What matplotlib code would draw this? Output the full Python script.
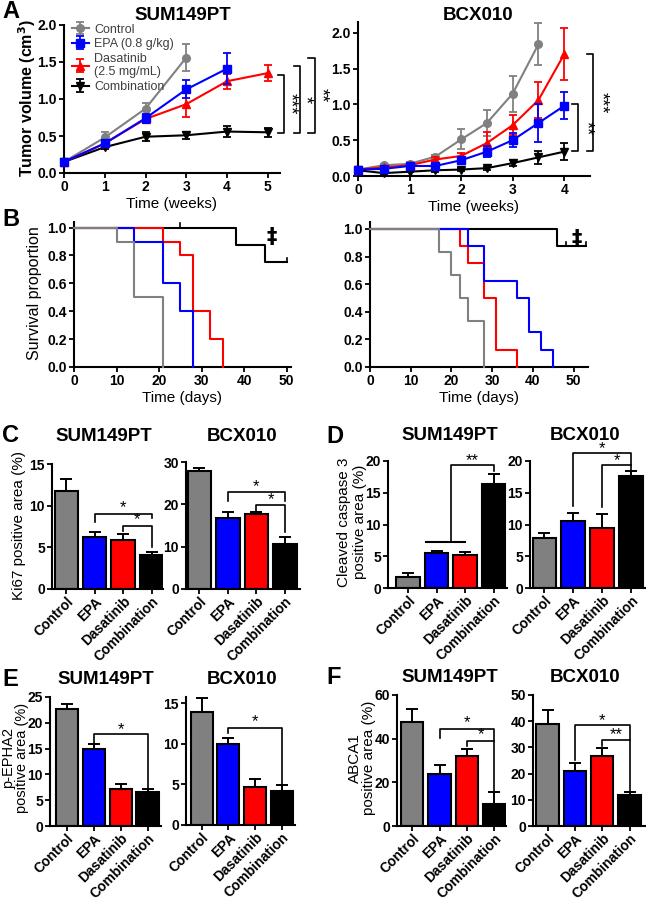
import matplotlib; matplotlib.use("Agg")
import matplotlib.pyplot as plt

plt.rcParams['font.family'] = ['Liberation Sans', 'DejaVu Sans']
plt.rcParams['axes.linewidth'] = 1.5

W, H = 646, 900
GROUPS = ["Control", "EPA", "Dasatinib", "Combination"]
COLORS = ["#808080", "#0000ff", "#ff0000", "#000000"]
MARKERS = ["o", "s", "^", "v"]
LEG_LABELS = ["Control", "EPA (0.8 g/kg)", "Dasatinib\n(2.5 mg/mL)", "Combination"]

# ---- A: tumour volume (cm3), SUM149PT
A_SUM_T = [[0, 1, 2, 3], [0, 1, 2, 3, 4], [0, 1, 2, 3, 4, 5], [0, 1, 2, 3, 4, 5]]
A_SUM_Y = [[0.15, 0.48, 0.87, 1.56],
           [0.15, 0.40, 0.74, 1.13, 1.41],
           [0.15, 0.40, 0.73, 0.93, 1.24, 1.35],
           [0.15, 0.35, 0.49, 0.51, 0.56, 0.55]]
A_SUM_E = [[0.02, 0.07, 0.08, 0.18],
           [0.02, 0.05, 0.06, 0.12, 0.21],
           [0.02, 0.04, 0.06, 0.18, 0.10, 0.11],
           [0.02, 0.03, 0.06, 0.05, 0.07, 0.06]]
# ---- A: BCX010
A_BCX_T = [0, 0.5, 1, 1.5, 2, 2.5, 3, 3.5, 4]
A_BCX_Y = [[0.09, 0.15, 0.17, 0.27, 0.51, 0.74, 1.15, 1.84],
           [0.09, 0.10, 0.14, 0.14, 0.22, 0.34, 0.50, 0.74, 0.98],
           [0.09, 0.12, 0.15, 0.23, 0.28, 0.46, 0.71, 1.06, 1.70],
           [0.08, 0.04, 0.06, 0.08, 0.09, 0.11, 0.18, 0.26, 0.34]]
A_BCX_E = [[0.01, 0.02, 0.02, 0.03, 0.14, 0.18, 0.25, 0.29],
           [0.01, 0.02, 0.02, 0.03, 0.05, 0.08, 0.10, 0.26, 0.19],
           [0.01, 0.02, 0.02, 0.03, 0.04, 0.16, 0.14, 0.25, 0.36],
           [0.01, 0.01, 0.01, 0.02, 0.02, 0.02, 0.04, 0.09, 0.12]]
# significance brackets: (x_left, x_right, y_top, y_bottom, label, x_label)
A_SUM_SIG = [(5.25, 5.39, 1.32, 0.54, "***", 5.53),
             (5.64, 5.80, 1.44, 0.54, "*", 5.91),
             (5.98, 6.16, 1.56, 0.54, "**", 6.30)]
A_BCX_SIG = [(4.16, 4.27, 1.00, 0.35, "**", 4.41),
             (4.44, 4.56, 1.71, 0.35, "***", 4.70)]

# ---- B: survival
B_SUM_T = [[0, 10, 14, 21], [0, 14, 21, 25, 28], [0, 21, 25, 28, 32, 35], [0, 38, 45, 50]]
B_SUM_S = [[1.0, 0.9, 0.5, 0.0], [1.0, 0.9, 0.6, 0.4, 0.0],
           [1.0, 0.9, 0.8, 0.4, 0.2, 0.0], [1.0, 0.875, 0.75, 0.75]]
B_SUM_CENS = [(25, 1.0), (50, 0.75)]
B_BCX_T = [[0, 17, 20, 22, 24, 28], [0, 24, 28, 36, 39, 42, 45],
           [0, 22, 24, 28, 31, 36], [0, 46, 53]]
B_BCX_S = [[1.0, 0.833, 0.667, 0.5, 0.333, 0.0], [1.0, 0.875, 0.625, 0.5, 0.25, 0.125, 0.0],
           [1.0, 0.875, 0.75, 0.5, 0.125, 0.0], [1.0, 0.875, 0.875]]
B_BCX_CENS = [(48.2, 0.875), (53, 0.875)]

# ---- C-F: bar charts (mean, upper SEM)
C_SUM = [11.8, 6.2, 5.9, 4.1];   C_SUM_E = [1.4, 0.7, 0.7, 0.35]
C_BCX = [27.8, 16.8, 17.8, 10.6]; C_BCX_E = [0.8, 1.5, 0.4, 1.6]
D_SUM = [1.8, 5.5, 5.15, 16.3];  D_SUM_E = [0.6, 0.4, 0.45, 1.6]
D_BCX = [7.95, 10.6, 9.45, 17.6]; D_BCX_E = [0.75, 1.2, 2.15, 0.8]
E_SUM = [22.7, 14.9, 7.15, 6.6]; E_SUM_E = [0.9, 0.9, 1.05, 0.5]
E_BCX = [14.0, 10.0, 4.7, 4.2];  E_BCX_E = [1.7, 0.7, 1.0, 0.7]
F_SUM = [47.8, 23.8, 32.2, 9.9]; F_SUM_E = [5.6, 4.1, 2.9, 5.5]
F_BCX = [38.8, 21.1, 26.8, 11.8]; F_BCX_E = [5.5, 3.1, 3.1, 1.0]
# brackets: (x1, x2, y_top, leg1_bottom, leg2_bottom, label, label_y)
C_SUM_SIG = [(1, 3, 9.0, 8.1, 8.5, "*", 9.8), (2, 3, 7.6, 7.0, 5.1, "*", 8.3)]
C_BCX_SIG = [(1, 3, 22.9, 20.9, 20.9, "*", 24.1), (2, 3, 19.9, 18.4, 13.4, "*", 21.1)]
D_SUM_SIG = [(1.5, 3, 19.3, 7.2, 18.4, "**", 20.1)]
D_SUM_LINE = (0.63, 2.0, 7.2)
D_BCX_SIG = [(1, 3, 21.2, 12.9, 19.4, "*", 21.9), (2, 3, 19.4, 12.7, 18.4, "*", 20.1)]
E_SUM_SIG = [(1, 3, 17.8, 15.9, 7.1, "*", 18.7)]
E_BCX_SIG = [(1, 3, 12.0, 11.3, 4.9, "*", 12.7)]
F_SUM_SIG = [(1, 3, 44.3, 40.2, 39.1, "*", 47.3), (2, 3, 39.1, 36.8, 15.7, "*", 41.7)]
F_BCX_SIG = [(1, 3, 38.5, 25.2, 32.8, "*", 40.1), (2, 3, 32.8, 30.7, 13.1, "**", 34.7)]

TICKFS = 10

fig = plt.figure(figsize=(W / 100, H / 100), dpi=100)


def box(l, t, r, b):
    return [l / W, 1 - b / H, (r - l) / W, (b - t) / H]


def ftext(x, y, s, **kw):
    fig.text(x / W, 1 - y / H, s, **kw)


def style(ax):
    for sp in ["top", "right"]:
        ax.spines[sp].set_visible(False)
    ax.tick_params(direction="out", length=3.5, width=1.3, labelsize=TICKFS, pad=1.5)
    for lab in ax.get_xticklabels() + ax.get_yticklabels():
        lab.set_fontweight("bold")


def line_panel(rect, ts, ys, es, sig, xlim, ylim, xticks):
    ax = fig.add_axes(rect)
    zo = [4, 6, 5, 3]
    for i in [3, 2, 1, 0]:
        t = ts[i] if isinstance(ts[0], list) else ts[:len(ys[i])]
        ax.errorbar(t, ys[i], yerr=es[i], color=COLORS[i], marker=MARKERS[i], ms=5.5,
                    lw=1.5, elinewidth=1.3, capsize=3, capthick=1.3, clip_on=False,
                    label=LEG_LABELS[i], zorder=zo[i])
    for x0, x1, yt, yb, lab, xl in sig:
        ax.plot([x0, x1, x1, x0], [yt, yt, yb, yb], color="k", lw=1.2, clip_on=False)
        ax.text(xl, (yt + yb) / 2, lab, rotation=270, ha="center", va="center",
                fontsize=13, clip_on=False)
    ax.set_xlim(*xlim); ax.set_ylim(*ylim)
    ax.set_xticks(xticks)
    ax.set_yticks([0, 0.5, 1.0, 1.5, 2.0])
    ax.set_yticklabels(["0.0", "0.5", "1.0", "1.5", "2.0"])
    ax.set_xlabel("Time (weeks)", fontsize=11, labelpad=2)
    style(ax)
    return ax


def surv_panel(rect, ts, ss, cens, xlim, ylim, dagger_x):
    ax = fig.add_axes(rect)
    for i in [3, 2, 1, 0]:
        ax.step(ts[i], ss[i], where="post", color=COLORS[i], lw=1.5, clip_on=False, zorder=6 - i)
    for cx, cy in cens:
        ax.plot([cx, cx], [cy, cy + 0.03], color="k", lw=1.2, clip_on=False)
    ax.text(dagger_x, 0.93, "\u2021", ha="center", va="center", fontsize=15, fontweight="bold",
            family=["DejaVu Sans"])
    ax.set_xlim(*xlim); ax.set_ylim(*ylim)
    ax.set_xticks([0, 10, 20, 30, 40, 50])
    ax.set_yticks([0, 0.2, 0.4, 0.6, 0.8, 1.0])
    ax.set_yticklabels(["0.0", "0.2", "0.4", "0.6", "0.8", "1.0"])
    ax.set_xlabel("Time (days)", fontsize=11, labelpad=2)
    style(ax)
    return ax


def bar_panel(rect, vals, errs, sig, xlim, ylim, yticks, extra=None):
    ax = fig.add_axes(rect)
    x = range(len(GROUPS))
    ax.bar(x, vals, width=0.82, color=COLORS, edgecolor="k", lw=1.5, zorder=2)
    ax.errorbar(x, vals, yerr=[[0] * 4, errs], fmt="none", ecolor="k", elinewidth=1.4,
                capsize=4, capthick=1.4, zorder=1)
    for x1, x2, yt, l1, l2, lab, ly in sig:
        ax.plot([x1, x1, x2, x2], [l1, yt, yt, l2], color="k", lw=1.2, clip_on=False)
        ax.text((x1 + x2) / 2, ly, lab, ha="center", va="center", fontsize=12, clip_on=False)
    if extra:
        ax.plot([extra[0], extra[1]], [extra[2], extra[2]], color="k", lw=1.5, clip_on=False)
    ax.set_xlim(*xlim); ax.set_ylim(*ylim)
    ax.set_yticks(yticks)
    ax.set_xticks(list(x))
    ax.set_xticklabels(GROUPS, rotation=45, ha="right", rotation_mode="anchor", fontsize=8.4)
    style(ax)
    ax.tick_params(axis="x", pad=0.5)
    return ax


# ---- panel A
axA1 = line_panel(box(64, 25, 280, 173), A_SUM_T, A_SUM_Y, A_SUM_E, A_SUM_SIG,
                  (0, 5.3), (0, 2.0), [0, 1, 2, 3, 4, 5])
h, l = axA1.get_legend_handles_labels()
axA1.legend(h[::-1], l[::-1], loc="upper left", bbox_to_anchor=(0.0, 1.06), frameon=False,
            fontsize=9, handlelength=1.4, handletextpad=0.4, labelspacing=0.2,
            borderaxespad=0.2, labelcolor="#404040")
line_panel(box(358, 22, 590, 176), A_BCX_T, A_BCX_Y, A_BCX_E, A_BCX_SIG,
           (0, 4.5), (0, 2.15), [0, 1, 2, 3, 4])

# ---- panel B
surv_panel(box(74, 222, 291, 367), B_SUM_T, B_SUM_S, B_SUM_CENS, (0, 51), (0, 1.04), 46.5)
surv_panel(box(370, 222, 588, 367), B_BCX_T, B_BCX_S, B_BCX_CENS, (0, 53.5), (0, 1.05), 50.7)

# ---- panels C-F
bar_panel(box(52, 464, 163, 589), C_SUM, C_SUM_E, C_SUM_SIG, (-0.5, 3.4), (0, 15), [0, 5, 10, 15])
bar_panel(box(186, 462, 300, 589), C_BCX, C_BCX_E, C_BCX_SIG, (-0.47, 3.53), (0, 30), [0, 10, 20, 30])
bar_panel(box(388, 461, 507, 588), D_SUM, D_SUM_E, D_SUM_SIG, (-0.7, 3.47), (0, 20),
          [0, 5, 10, 15, 20], extra=D_SUM_LINE)
bar_panel(box(530, 461, 646, 588), D_BCX, D_BCX_E, D_BCX_SIG, (-0.5, 3.52), (0, 20), [0, 5, 10, 15, 20])
bar_panel(box(50, 697, 161, 826), E_SUM, E_SUM_E, E_SUM_SIG, (-0.62, 3.5), (0, 25), [0, 5, 10, 15, 20, 25])
bar_panel(box(186, 697, 295, 825), E_BCX, E_BCX_E, E_BCX_SIG, (-0.59, 3.5), (0, 15.8), [0, 5, 10, 15])
bar_panel(box(397, 695, 506, 826), F_SUM, F_SUM_E, F_SUM_SIG, (-0.56, 3.43), (0, 60), [0, 20, 40, 60])
bar_panel(box(533, 695, 646, 826), F_BCX, F_BCX_E, F_BCX_SIG, (-0.53, 3.6), (0, 50), [0, 10, 20, 30, 40, 50])

# ---- titles, panel letters, y labels
TF = dict(fontsize=13.5, fontweight="bold", ha="center", va="center")
ftext(183, 15, "SUM149PT", **TF); ftext(478, 15, "BCX010", **TF)
for y, xs in [(437, (104, 242)), (435, (450, 585)), (680, (106, 242)), (678, (450, 585))]:
    ftext(xs[0], y, "SUM149PT", **TF); ftext(xs[1], y, "BCX010", **TF)
LF = dict(fontsize=17, fontweight="bold", ha="left", va="center")
ftext(2, 11, "A", **LF); ftext(2, 220, "B", **LF)
ftext(2, 435, "C", **LF); ftext(326, 437, "D", **LF)
ftext(2, 680, "E", **LF); ftext(326, 678, "F", **LF)
YF = dict(fontsize=11, rotation=90, ha="center", va="center")
ftext(27, 98, "Tumor volume (cm$^\\mathbf{3}$)", fontsize=11.5, fontweight="bold",
      rotation=90, ha="center", va="center")
ftext(35, 293, "Survival proportion", fontsize=11.5, rotation=90, ha="center", va="center")
ftext(19, 525, "Ki67 positive area (%)", **YF)
ftext(352, 522, "Cleaved caspase 3\npositive area (%)", linespacing=1.1, **YF)
ftext(15, 758, "p-EPHA2\npositive area (%)", fontsize=10.5, rotation=90, ha="center",
      va="center", linespacing=0.95)
ftext(362, 758, "ABCA1\npositive area (%)", linespacing=1.05, **YF)

fig.savefig("out.png", dpi=100)
